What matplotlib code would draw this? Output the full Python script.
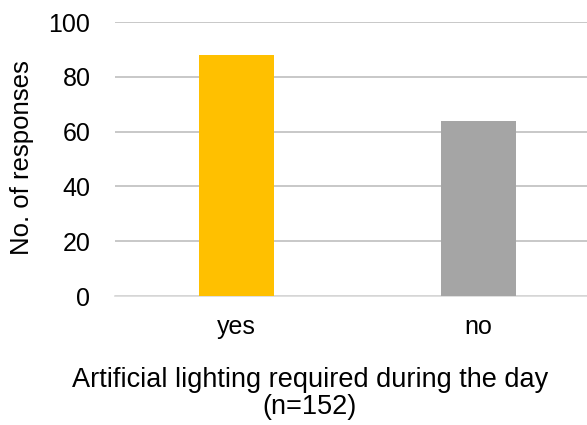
import matplotlib
matplotlib.use("Agg")
import matplotlib.pyplot as plt

categories = ["yes", "no"]
responses = [88, 64]
bar_colors = ["#FFC000", "#A5A5A5"]
y_ticks = [0, 20, 40, 60, 80, 100]

plt.rcParams["font.family"] = ["Liberation Sans", "DejaVu Sans"]

W, H = 587, 425
fig = plt.figure(figsize=(W / 100, H / 100), dpi=100)
left, right, top, bottom = 115.5, 587, 22, 296
ax = fig.add_axes([left / W, 1 - bottom / H, (right - left) / W, (bottom - top) / H])

x = list(range(len(categories)))
ax.bar(x, responses, width=0.31, color=bar_colors, zorder=3)

ax.set_ylim(0, 100)
ax.set_xlim(-0.5, -0.5 + (right - left) / 242)
ax.set_yticks(y_ticks)
ax.set_xticks(x)
ax.set_xticklabels(categories)
ax.yaxis.grid(True, color="#BFBFBF", linewidth=1.2, zorder=0)
ax.set_axisbelow(True)
for s in ["left", "right", "top"]:
    ax.spines[s].set_visible(False)
ax.spines["bottom"].set_color("#D9D9D9")
ax.spines["bottom"].set_linewidth(1.2)
ax.tick_params(axis="both", length=0, labelsize=18, colors="black")
ax.tick_params(axis="y", pad=18)
ax.tick_params(axis="x", pad=14)

fig.text(22 / W, 1 - 158 / H, "No. of responses", rotation=90, ha="center", va="center", fontsize=18.5)
fig.text(310 / W, 1 - 380 / H, "Artificial lighting required during the day", ha="center", va="center", fontsize=19.5)
fig.text(310 / W, 1 - 407 / H, "(n=152)", ha="center", va="center", fontsize=19.5)

fig.savefig("out.png", dpi=100)
